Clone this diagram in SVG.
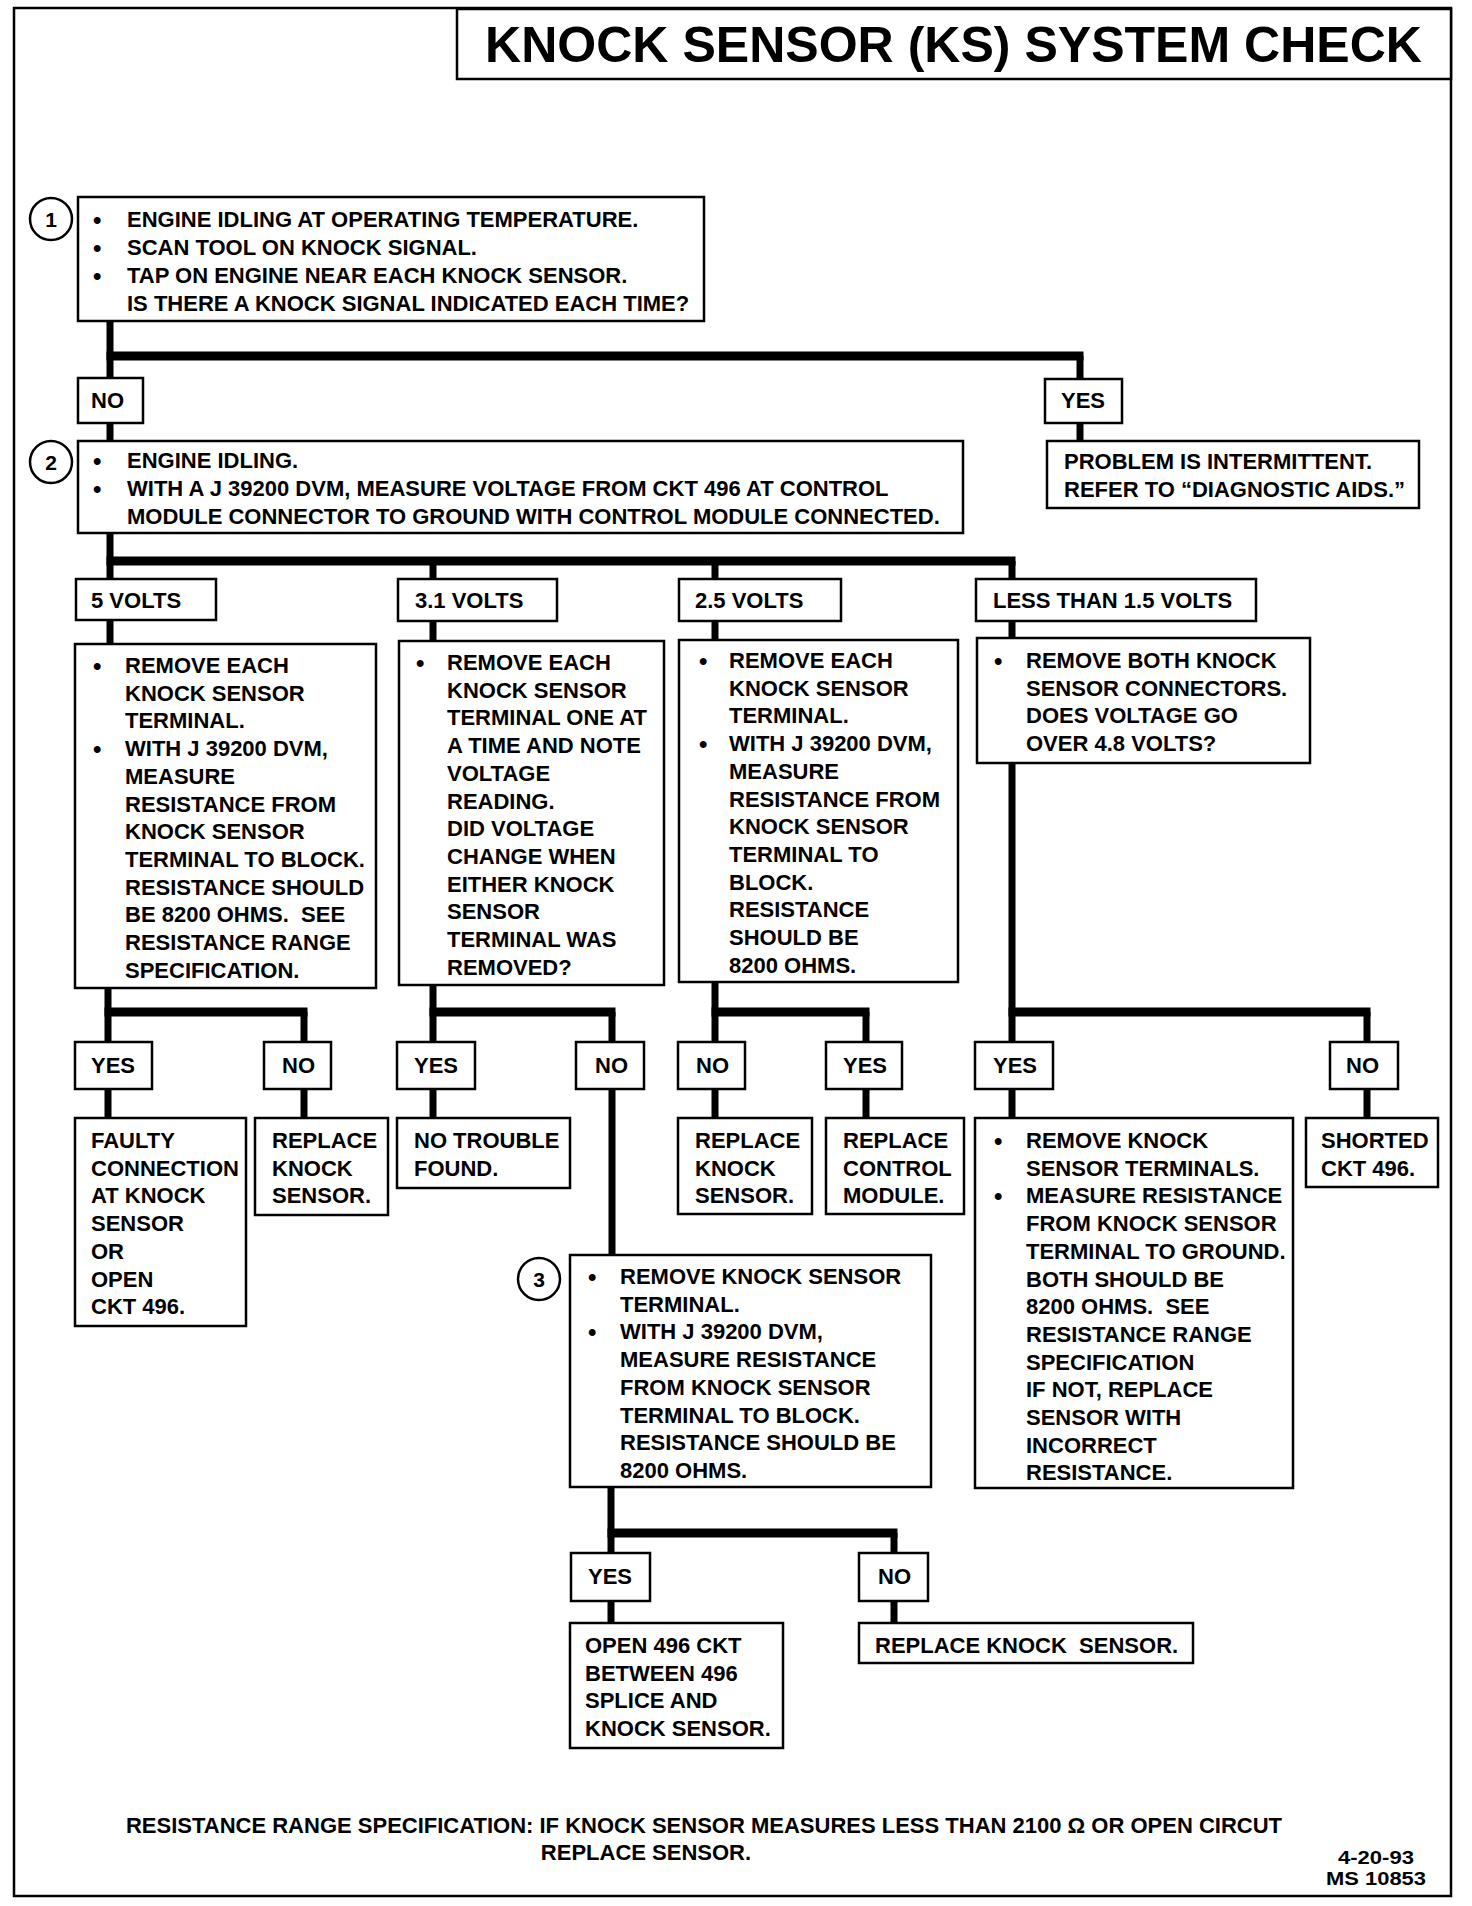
<svg xmlns="http://www.w3.org/2000/svg" width="1472" height="1906" viewBox="0 0 1472 1906">
<style>
.b{fill:#fff;stroke:#000;stroke-width:2.5}
.t{font-family:"Liberation Sans",Arial,Helvetica,sans-serif;font-weight:bold;font-size:22px;fill:#000;white-space:pre}
.bu{font-family:"Liberation Sans",Arial,sans-serif;font-weight:bold;font-size:24px;fill:#000}
.n{font-family:"Liberation Sans",Arial,sans-serif;font-weight:bold;font-size:21px;fill:#000;text-anchor:middle}
.ttl{font-family:"Liberation Sans",Arial,Helvetica,sans-serif;font-weight:bold;font-size:50px;fill:#000}
.d{font-family:"Liberation Sans",Arial,Helvetica,sans-serif;font-weight:bold;font-size:19px;fill:#000}
.v{fill:none;stroke:#000;stroke-width:7}
.h{fill:none;stroke:#000;stroke-width:9}
.cir{fill:#fff;stroke:#000;stroke-width:2.5}
</style>
<rect width="1472" height="1906" fill="#fff"/>
<g id="frame">
<rect x="14" y="8" width="1437" height="1888" fill="none" stroke="#000" stroke-width="2.5"/>
</g>
<g id="title">
<rect x="457" y="9" width="994" height="70" class="b"/>
<text x="485" y="62" class="ttl" textLength="937" lengthAdjust="spacingAndGlyphs">KNOCK SENSOR (KS) SYSTEM CHECK</text>
</g>
<g id="connectors">
<path class="v" d="M110 321V378M1080 356V379M110 423V441M1080 423V441"/>
<path class="h" d="M106.5 356H1083.5"/>
<path class="v" d="M110 533V579M433 561V580M715 561V580M1012 561V579"/>
<path class="h" d="M106.5 561H1015.5"/>
<path class="v" d="M110 619V644M433 621V641M715 621V640M1012 621V638"/>
<path class="v" d="M108 988V1042M304 1012V1042M108 1089V1118M304 1089V1118"/>
<path class="h" d="M104.5 1012H307.5"/>
<path class="v" d="M433 985V1042M612 1012V1042M433 1089V1118M612 1089V1255"/>
<path class="h" d="M429.5 1012H615.5"/>
<path class="v" d="M715 982V1042M866 1012V1042M715 1089V1118M866 1089V1118"/>
<path class="h" d="M711.5 1012H869.5"/>
<path class="v" d="M1012 763V1042M1367 1012V1042M1012 1089V1118M1367 1089V1118"/>
<path class="h" d="M1008.5 1012H1370.5"/>
<path class="v" d="M611 1487V1553M894 1533V1553M611 1601V1623M894 1601V1623"/>
<path class="h" d="M607.5 1533H897.5"/>
</g>
<g id="step1">
<circle cx="51" cy="219" r="21" class="cir"/>
<text x="51" y="227" class="n">1</text>
<rect x="78" y="197" width="626" height="124" class="b"/>
<text class="bu"><tspan x="93" y="228">•</tspan><tspan x="93" y="256">•</tspan><tspan x="93" y="284">•</tspan></text>
<text class="t"><tspan x="127" y="227">ENGINE IDLING AT OPERATING TEMPERATURE.</tspan><tspan x="127" y="255">SCAN TOOL ON KNOCK SIGNAL.</tspan><tspan x="127" y="283">TAP ON ENGINE NEAR EACH KNOCK SENSOR.</tspan><tspan x="127" y="311">IS THERE A KNOCK SIGNAL INDICATED EACH TIME?</tspan></text>
</g>
<g id="no1"><rect x="78" y="378" width="65" height="45" class="b"/><text x="91" y="408" class="t">NO</text></g>
<g id="yes1"><rect x="1045" y="379" width="77" height="44" class="b"/><text x="1061" y="408" class="t">YES</text></g>
<g id="intermittent">
<rect x="1047" y="441" width="372" height="67" class="b"/>
<text class="t"><tspan x="1064" y="469">PROBLEM IS INTERMITTENT.</tspan><tspan x="1064" y="497">REFER TO “DIAGNOSTIC AIDS.”</tspan></text>
</g>
<g id="step2">
<circle cx="51" cy="462" r="21" class="cir"/>
<text x="51" y="470" class="n">2</text>
<rect x="78" y="441" width="885" height="92" class="b"/>
<text class="bu"><tspan x="93" y="469">•</tspan><tspan x="93" y="497">•</tspan></text>
<text class="t"><tspan x="127" y="468">ENGINE IDLING.</tspan><tspan x="127" y="496">WITH A J 39200 DVM, MEASURE VOLTAGE FROM CKT 496 AT CONTROL</tspan><tspan x="127" y="524">MODULE CONNECTOR TO GROUND WITH CONTROL MODULE CONNECTED.</tspan></text>
</g>
<g id="v5"><rect x="76" y="579" width="140" height="41" class="b"/><text x="91" y="608" class="t">5 VOLTS</text></g>
<g id="v31"><rect x="398" y="579" width="159" height="42" class="b"/><text x="415" y="608" class="t">3.1 VOLTS</text></g>
<g id="v25"><rect x="679" y="579" width="162" height="42" class="b"/><text x="695" y="608" class="t">2.5 VOLTS</text></g>
<g id="v15"><rect x="976" y="579" width="280" height="42" class="b"/><text x="993" y="608" class="t">LESS THAN 1.5 VOLTS</text></g>
<g id="boxA">
<rect x="75" y="644" width="301" height="344" class="b"/>
<text class="bu"><tspan x="93" y="674">•</tspan><tspan x="93" y="757">•</tspan></text>
<text class="t"><tspan x="125" y="673">REMOVE EACH</tspan><tspan x="125" dy="27.7">KNOCK SENSOR</tspan><tspan x="125" dy="27.7">TERMINAL.</tspan><tspan x="125" dy="27.7">WITH J 39200 DVM,</tspan><tspan x="125" dy="27.7">MEASURE</tspan><tspan x="125" dy="27.7">RESISTANCE FROM</tspan><tspan x="125" dy="27.7">KNOCK SENSOR</tspan><tspan x="125" dy="27.7">TERMINAL TO BLOCK.</tspan><tspan x="125" dy="27.7">RESISTANCE SHOULD</tspan><tspan x="125" dy="27.7">BE 8200 OHMS.  SEE</tspan><tspan x="125" dy="27.7">RESISTANCE RANGE</tspan><tspan x="125" dy="27.7">SPECIFICATION.</tspan></text>
</g>
<g id="boxB">
<rect x="399" y="641" width="265" height="344" class="b"/>
<text class="bu"><tspan x="416" y="671">•</tspan></text>
<text class="t"><tspan x="447" y="670">REMOVE EACH</tspan><tspan x="447" dy="27.7">KNOCK SENSOR</tspan><tspan x="447" dy="27.7">TERMINAL ONE AT</tspan><tspan x="447" dy="27.7">A TIME AND NOTE</tspan><tspan x="447" dy="27.7">VOLTAGE</tspan><tspan x="447" dy="27.7">READING.</tspan><tspan x="447" dy="27.7">DID VOLTAGE</tspan><tspan x="447" dy="27.7">CHANGE WHEN</tspan><tspan x="447" dy="27.7">EITHER KNOCK</tspan><tspan x="447" dy="27.7">SENSOR</tspan><tspan x="447" dy="27.7">TERMINAL WAS</tspan><tspan x="447" dy="27.7">REMOVED?</tspan></text>
</g>
<g id="boxC">
<rect x="679" y="640" width="279" height="342" class="b"/>
<text class="bu"><tspan x="699" y="669">•</tspan><tspan x="699" y="752">•</tspan></text>
<text class="t"><tspan x="729" y="668">REMOVE EACH</tspan><tspan x="729" dy="27.7">KNOCK SENSOR</tspan><tspan x="729" dy="27.7">TERMINAL.</tspan><tspan x="729" dy="27.7">WITH J 39200 DVM,</tspan><tspan x="729" dy="27.7">MEASURE</tspan><tspan x="729" dy="27.7">RESISTANCE FROM</tspan><tspan x="729" dy="27.7">KNOCK SENSOR</tspan><tspan x="729" dy="27.7">TERMINAL TO</tspan><tspan x="729" dy="27.7">BLOCK.</tspan><tspan x="729" dy="27.7">RESISTANCE</tspan><tspan x="729" dy="27.7">SHOULD BE</tspan><tspan x="729" dy="27.7">8200 OHMS.</tspan></text>
</g>
<g id="boxD">
<rect x="977" y="638" width="333" height="125" class="b"/>
<text class="bu"><tspan x="994" y="669">•</tspan></text>
<text class="t"><tspan x="1026" y="668">REMOVE BOTH KNOCK</tspan><tspan x="1026" dy="27.7">SENSOR CONNECTORS.</tspan><tspan x="1026" dy="27.7">DOES VOLTAGE GO</tspan><tspan x="1026" dy="27.7">OVER 4.8 VOLTS?</tspan></text>
</g>
<g id="yesA"><rect x="75" y="1042" width="77" height="47" class="b"/><text x="91" y="1073" class="t">YES</text></g>
<g id="noA"><rect x="264" y="1042" width="67" height="47" class="b"/><text x="282" y="1073" class="t">NO</text></g>
<g id="faulty">
<rect x="75" y="1118" width="171" height="208" class="b"/>
<text class="t"><tspan x="91" y="1148">FAULTY</tspan><tspan x="91" dy="27.7">CONNECTION</tspan><tspan x="91" dy="27.7">AT KNOCK</tspan><tspan x="91" dy="27.7">SENSOR</tspan><tspan x="91" dy="27.7">OR</tspan><tspan x="91" dy="27.7">OPEN</tspan><tspan x="91" dy="27.7">CKT 496.</tspan></text>
</g>
<g id="replaceA">
<rect x="255" y="1118" width="133" height="97" class="b"/>
<text class="t"><tspan x="272" y="1148">REPLACE</tspan><tspan x="272" dy="27.7">KNOCK</tspan><tspan x="272" dy="27.7">SENSOR.</tspan></text>
</g>
<g id="yesB"><rect x="397" y="1042" width="78" height="47" class="b"/><text x="414" y="1073" class="t">YES</text></g>
<g id="noB"><rect x="576" y="1042" width="68" height="47" class="b"/><text x="595" y="1073" class="t">NO</text></g>
<g id="notrouble">
<rect x="397" y="1118" width="173" height="70" class="b"/>
<text class="t"><tspan x="414" y="1148">NO TROUBLE</tspan><tspan x="414" dy="27.7">FOUND.</tspan></text>
</g>
<g id="noC"><rect x="678" y="1042" width="67" height="47" class="b"/><text x="696" y="1073" class="t">NO</text></g>
<g id="yesC"><rect x="826" y="1042" width="76" height="47" class="b"/><text x="843" y="1073" class="t">YES</text></g>
<g id="replaceC">
<rect x="678" y="1118" width="134" height="96" class="b"/>
<text class="t"><tspan x="695" y="1148">REPLACE</tspan><tspan x="695" dy="27.7">KNOCK</tspan><tspan x="695" dy="27.7">SENSOR.</tspan></text>
</g>
<g id="replaceModule">
<rect x="826" y="1118" width="138" height="96" class="b"/>
<text class="t"><tspan x="843" y="1148">REPLACE</tspan><tspan x="843" dy="27.7">CONTROL</tspan><tspan x="843" dy="27.7">MODULE.</tspan></text>
</g>
<g id="yesD"><rect x="975" y="1042" width="78" height="47" class="b"/><text x="993" y="1073" class="t">YES</text></g>
<g id="noD"><rect x="1330" y="1042" width="68" height="47" class="b"/><text x="1346" y="1073" class="t">NO</text></g>
<g id="removeD">
<rect x="975" y="1118" width="318" height="370" class="b"/>
<text class="bu"><tspan x="994" y="1149">•</tspan><tspan x="994" y="1204">•</tspan></text>
<text class="t"><tspan x="1026" y="1148">REMOVE KNOCK</tspan><tspan x="1026" dy="27.7">SENSOR TERMINALS.</tspan><tspan x="1026" dy="27.7">MEASURE RESISTANCE</tspan><tspan x="1026" dy="27.7">FROM KNOCK SENSOR</tspan><tspan x="1026" dy="27.7">TERMINAL TO GROUND.</tspan><tspan x="1026" dy="27.7">BOTH SHOULD BE</tspan><tspan x="1026" dy="27.7">8200 OHMS.  SEE</tspan><tspan x="1026" dy="27.7">RESISTANCE RANGE</tspan><tspan x="1026" dy="27.7">SPECIFICATION</tspan><tspan x="1026" dy="27.7">IF NOT, REPLACE</tspan><tspan x="1026" dy="27.7">SENSOR WITH</tspan><tspan x="1026" dy="27.7">INCORRECT</tspan><tspan x="1026" dy="27.7">RESISTANCE.</tspan></text>
</g>
<g id="shorted">
<rect x="1306" y="1118" width="132" height="69" class="b"/>
<text class="t"><tspan x="1321" y="1148">SHORTED</tspan><tspan x="1321" dy="27.7">CKT 496.</tspan></text>
</g>
<g id="step3">
<circle cx="539" cy="1279" r="21" class="cir"/>
<text x="539" y="1287" class="n">3</text>
<rect x="570" y="1255" width="361" height="232" class="b"/>
<text class="bu"><tspan x="588" y="1285">•</tspan><tspan x="588" y="1340">•</tspan></text>
<text class="t"><tspan x="620" y="1284">REMOVE KNOCK SENSOR</tspan><tspan x="620" dy="27.7">TERMINAL.</tspan><tspan x="620" dy="27.7">WITH J 39200 DVM,</tspan><tspan x="620" dy="27.7">MEASURE RESISTANCE</tspan><tspan x="620" dy="27.7">FROM KNOCK SENSOR</tspan><tspan x="620" dy="27.7">TERMINAL TO BLOCK.</tspan><tspan x="620" dy="27.7">RESISTANCE SHOULD BE</tspan><tspan x="620" dy="27.7">8200 OHMS.</tspan></text>
</g>
<g id="yesE"><rect x="571" y="1553" width="79" height="48" class="b"/><text x="588" y="1584" class="t">YES</text></g>
<g id="noE"><rect x="859" y="1553" width="69" height="48" class="b"/><text x="878" y="1584" class="t">NO</text></g>
<g id="open496">
<rect x="570" y="1623" width="213" height="125" class="b"/>
<text class="t"><tspan x="585" y="1653">OPEN 496 CKT</tspan><tspan x="585" dy="27.7">BETWEEN 496</tspan><tspan x="585" dy="27.7">SPLICE AND</tspan><tspan x="585" dy="27.7">KNOCK SENSOR.</tspan></text>
</g>
<g id="replaceE">
<rect x="859" y="1623" width="334" height="40" class="b"/>
<text x="875" y="1653" class="t">REPLACE KNOCK  SENSOR.</text>
</g>
<g id="footer">
<text x="704" y="1833" class="t" text-anchor="middle">RESISTANCE RANGE SPECIFICATION: IF KNOCK SENSOR MEASURES LESS THAN 2100 Ω OR OPEN CIRCUT</text>
<text x="646" y="1860" class="t" text-anchor="middle">REPLACE SENSOR.</text>
<text x="1338" y="1864" class="d" textLength="76" lengthAdjust="spacingAndGlyphs">4-20-93</text>
<text x="1326" y="1885" class="d" textLength="100" lengthAdjust="spacingAndGlyphs">MS 10853</text>
</g>
</svg>
